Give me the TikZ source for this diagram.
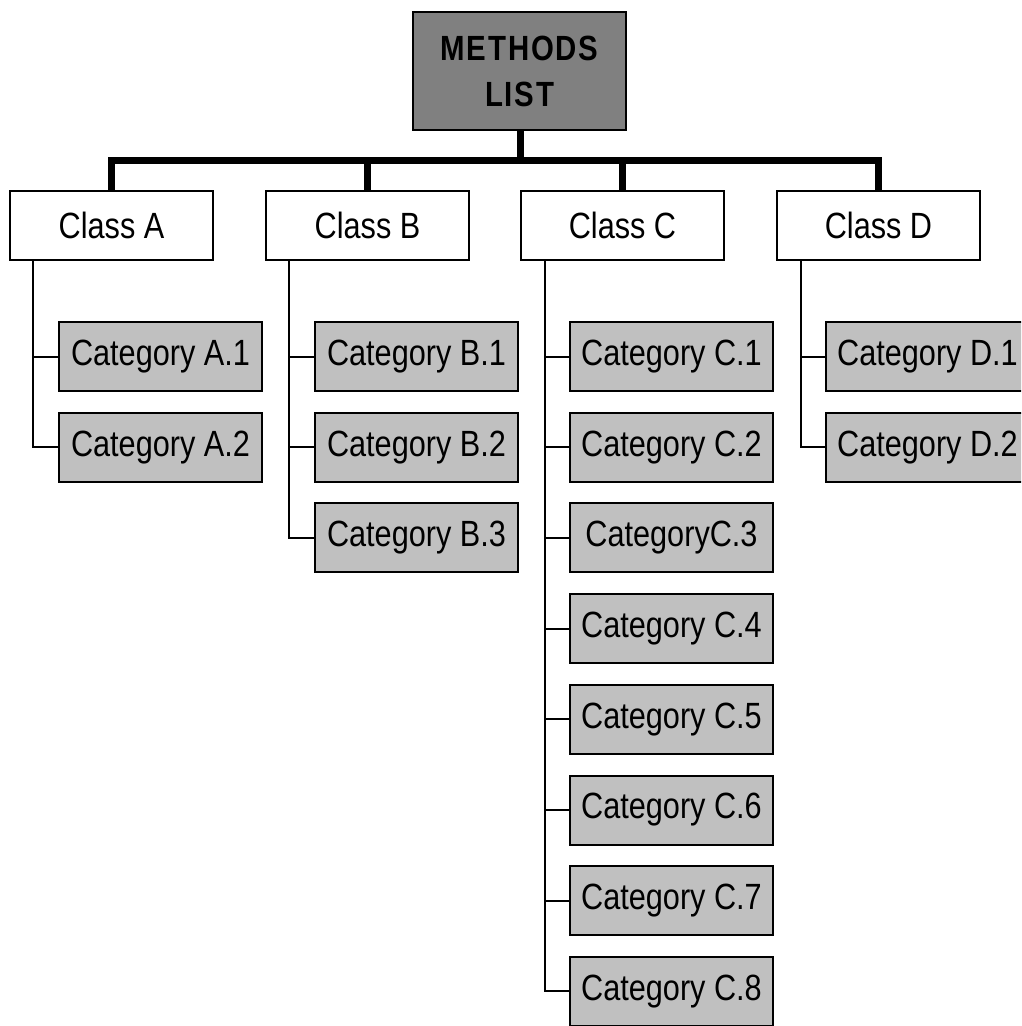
\documentclass[tikz,border=0pt]{standalone}
\usepackage{fontspec}
\setmainfont{Liberation Sans}[FakeStretch=0.84]
\begin{document}
\begin{tikzpicture}[x=1pt,y=-1pt,
  boxbase/.style={draw=black,line width=2pt,minimum width=203pt,minimum height=69pt,inner sep=0pt,
    font=\fontsize{36.5}{40}\selectfont},
  classbox/.style={boxbase,fill=white},
  catbox/.style={boxbase,fill=catgray},
  rootbox/.style={draw=black,line width=2pt,fill=rootgray,minimum width=213pt,minimum height=118pt,
    inner sep=0pt,align=center,font=\fontsize{35}{46}\selectfont\bfseries\addfontfeature{LetterSpace=5}},
  thick bus/.style={line width=7pt,miter limit=10},
  thin link/.style={line width=2pt}]
\definecolor{catgray}{HTML}{C0C0C0}
\definecolor{rootgray}{HTML}{808080}
\useasboundingbox (0,0) rectangle (1021,1026);
\clip (0,0) rectangle (1021,1026);

\node[rootbox] (root) at (519.5,71) {METHODS\\LIST};

\node[classbox] (A) at (111.5,225.5) {Class A};
\node[classbox] (B) at (367.5,225.5) {Class B};
\node[classbox] (C) at (622.5,225.5) {Class C};
\node[classbox] (D) at (878.5,225.5) {Class D};

\coordinate (busL) at (111.5,160);
\coordinate (busR) at (878.5,160);
\coordinate (stem) at (520,160);

\draw[thick bus] (A.north) -- (busL) -- (busR) -- (D.north);
\draw[thick bus] (root.south -| stem) -- (stem);
\draw[thick bus] (B.north) -- (B.north |- busL);
\draw[thick bus] (C.north) -- (C.north |- busL);

% categories
\node[catbox] (A1) at (160.5,356.5) {Category A.1};
\node[catbox] (A2) at (160.5,447.2) {Category A.2};

\node[catbox] (B1) at (416.5,356.5) {Category B.1};
\node[catbox] (B2) at (416.5,447.2) {Category B.2};
\node[catbox] (B3) at (416.5,537.9) {Category B.3};

\node[catbox] (C1) at (671.5,356.5) {Category C.1};
\node[catbox] (C2) at (671.5,447.2) {Category C.2};
\node[catbox] (C3) at (671.5,537.9) {CategoryC.3};
\node[catbox] (C4) at (671.5,628.6) {Category C.4};
\node[catbox] (C5) at (671.5,719.3) {Category C.5};
\node[catbox] (C6) at (671.5,810.0) {Category C.6};
\node[catbox] (C7) at (671.5,900.7) {Category C.7};
\node[catbox] (C8) at (671.5,991.4) {Category C.8};

\node[catbox] (D1) at (927.5,356.5) {Category D.1};
\node[catbox] (D2) at (927.5,447.2) {Category D.2};

% thin connectors
\coordinate (tA) at (33,260);
\coordinate (tB) at (289,260);
\coordinate (tC) at (545,260);
\coordinate (tD) at (801,260);

\draw[thin link] (tA) |- (A2.west);
\draw[thin link] (tA |- A1.west) -- (A1.west);

\draw[thin link] (tB) |- (B3.west);
\foreach \n in {B1,B2} \draw[thin link] (tB |- \n.west) -- (\n.west);

\draw[thin link] (tC) |- (C8.west);
\foreach \n in {C1,C2,C3,C4,C5,C6,C7} \draw[thin link] (tC |- \n.west) -- (\n.west);

\draw[thin link] (tD) |- (D2.west);
\draw[thin link] (tD |- D1.west) -- (D1.west);
\end{tikzpicture}
\end{document}
